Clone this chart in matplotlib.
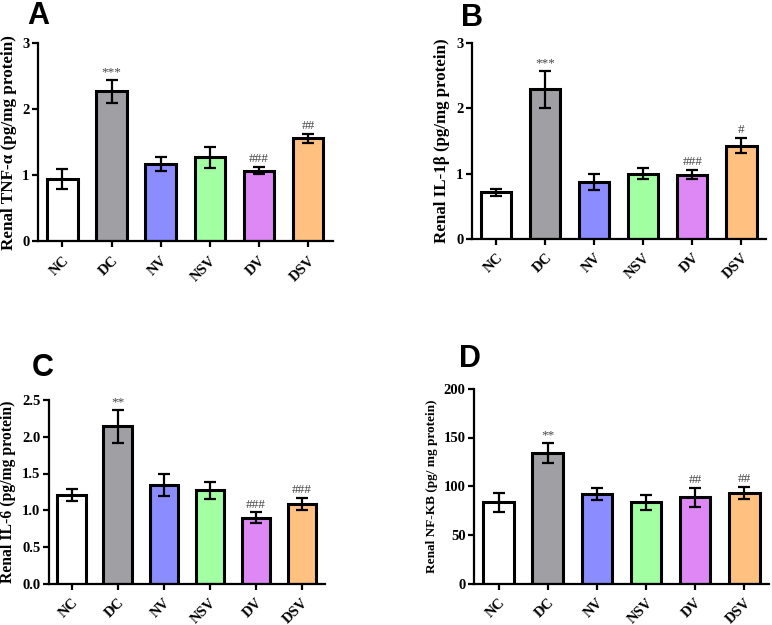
import numpy as np
import matplotlib.pyplot as plt

groups = ["NC", "DC", "NV", "NSV", "DV", "DSV"]
colors = ["#FFFFFF", "#A0A0A4", "#8A8CFF", "#A2FFA2", "#DD88F5", "#FFC080"]

tnf = [0.94, 2.27, 1.17, 1.27, 1.07, 1.56]
tnf_err = [0.15, 0.17, 0.11, 0.16, 0.05, 0.07]
tnf_sig = ["", "***", "", "", "###", "##"]

il1b = [0.71, 2.29, 0.87, 1.00, 0.985, 1.43]
il1b_err = [0.06, 0.28, 0.13, 0.09, 0.07, 0.11]
il1b_sig = ["", "***", "", "", "###", "#"]

il6 = [1.21, 2.14, 1.34, 1.27, 0.90, 1.09]
il6_err = [0.08, 0.22, 0.15, 0.12, 0.07, 0.08]
il6_sig = ["", "**", "", "", "###", "###"]

nfkb = [83.5, 134, 92, 83.5, 88.5, 93]
nfkb_err = [9.5, 10.5, 6.5, 7.5, 9.5, 6]
nfkb_sig = ["", "**", "", "", "##", "##"]

plt.rcParams['font.family'] = ['Liberation Serif', 'DejaVu Serif']

fig = plt.figure(figsize=(7.72, 6.25), dpi=100)

panels = [
    ("A", [0.049, 0.614, 0.382, 0.317], tnf, tnf_err, tnf_sig, 3, [0, 1, 2, 3], "Renal TNF-\u03b1 (pg/mg protein)", 12.3, (0.035, 0.998), lambda v: "%d" % v),
    ("B", [0.611, 0.618, 0.381, 0.313], il1b, il1b_err, il1b_sig, 3, [0, 1, 2, 3], "Renal IL-1\u03b2 (pg/mg protein)", 12.2, (0.597, 0.995), lambda v: "%d" % v),
    ("C", [0.063, 0.066, 0.358, 0.294], il6, il6_err, il6_sig, 2.5, [0, 0.5, 1.0, 1.5, 2.0, 2.5], "Renal IL-6 (pg/mg protein)", 11.3, (0.041, 0.436), lambda v: "%.1f" % v),
    ("D", [0.614, 0.066, 0.382, 0.312], nfkb, nfkb_err, nfkb_sig, 200, [0, 50, 100, 150, 200], "Renal NF-KB (pg/ mg protein)", 9.5, (0.595, 0.450), lambda v: "%d" % v),
]

x = np.arange(len(groups))
for letter, pos, vals, errs, sigs, ymax, yt, ylab, yfs, lpos, fmt in panels:
    ax = fig.add_axes(pos)
    ax.bar(x, vals, width=0.62, color=colors, edgecolor="black", linewidth=2.2, zorder=2)
    ax.errorbar(x, vals, yerr=errs, fmt="none", ecolor="black", elinewidth=1.6,
                capsize=4, capthick=1.6, zorder=3)
    for xi, v, e, s in zip(x, vals, errs, sigs):
        if s:
            ax.text(xi, v + e + ymax * 0.01, s, ha="center", va="bottom",
                    fontsize=9.5, color="#454545")
    ax.set_xlim(-0.5, len(groups) - 0.5)
    ax.set_ylim(0, ymax)
    ax.set_yticks(yt)
    ax.set_yticklabels([fmt(v) for v in yt], fontsize=10.5, fontweight="bold")
    ax.set_xticks(x)
    ax.set_xticklabels(groups, rotation=45, ha="right", rotation_mode="anchor",
                       fontsize=10.5, fontweight="bold")
    ax.spines["top"].set_visible(False)
    ax.spines["right"].set_visible(False)
    ax.spines["left"].set_linewidth(1.6)
    ax.spines["bottom"].set_linewidth(1.6)
    ax.tick_params(axis="both", width=1.6, length=4, pad=2)
    ax.tick_params(axis="x", pad=5)
    ax.set_ylabel(ylab, fontsize=yfs, fontweight="bold", labelpad=4)
    fig.text(lpos[0], lpos[1], letter, fontsize=22, fontweight="bold",
             family="Liberation Sans", ha="left", va="top")

plt.savefig("out.png", dpi=100)
